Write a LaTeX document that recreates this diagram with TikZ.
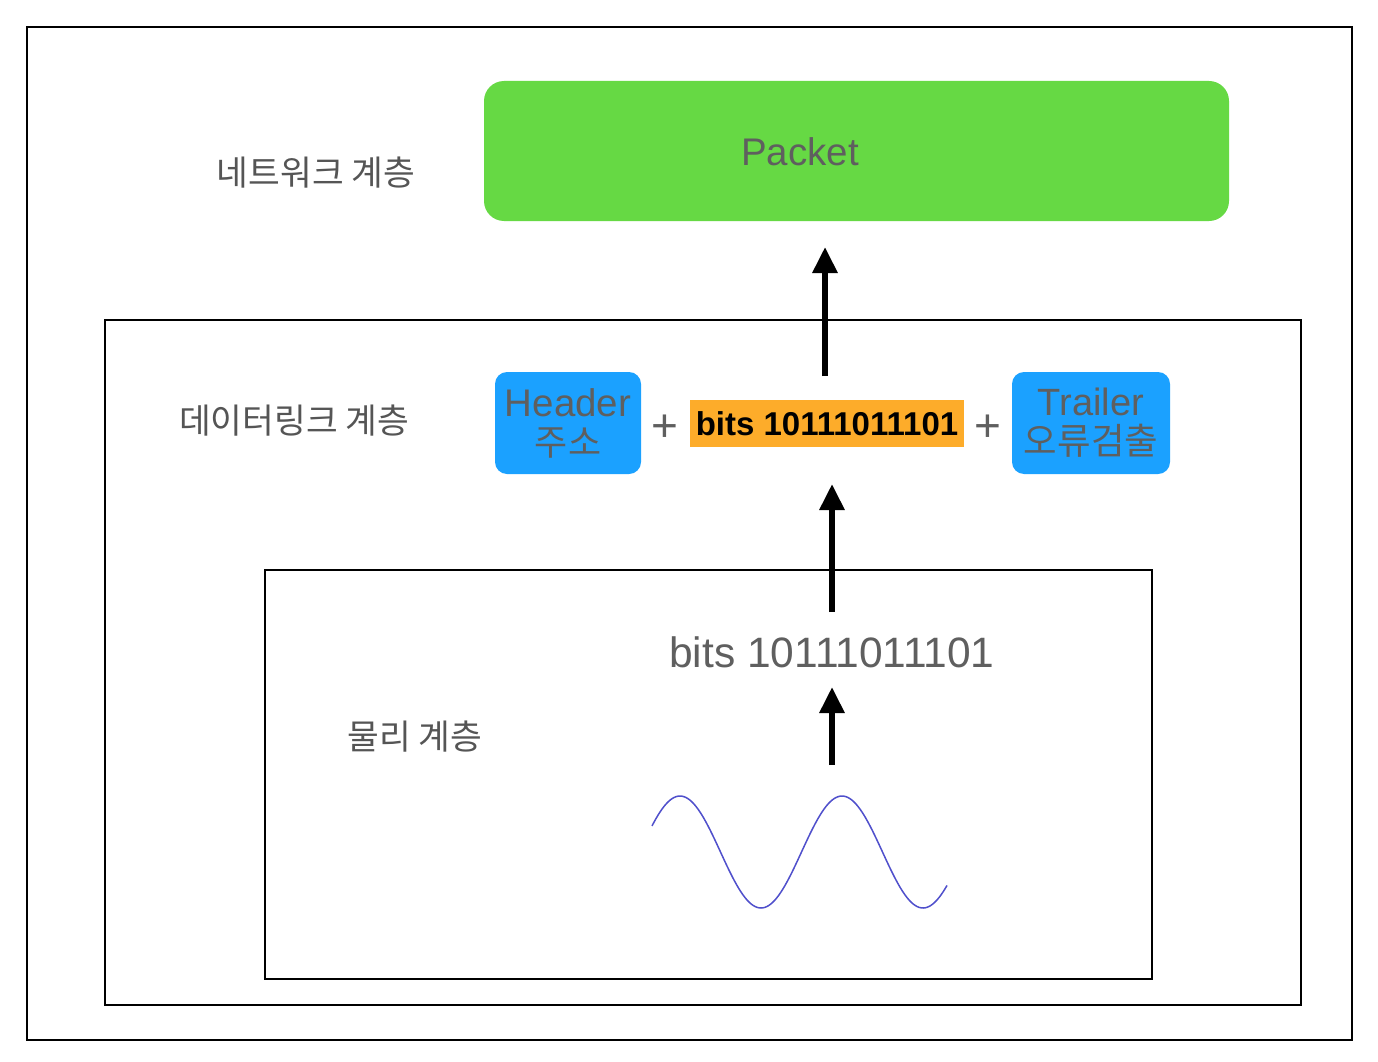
\documentclass[tikz,border=0pt]{standalone}
\usepackage{fontspec}
\setmainfont{Liberation Sans}
\newfontfamily\cjk{Noto Sans CJK KR}
\usetikzlibrary{arrows.meta}
\definecolor{txtgray}{HTML}{5F5F5F}
\definecolor{kgray}{HTML}{555555}
\definecolor{pgreen}{HTML}{66D944}
\definecolor{hblue}{HTML}{1BA1FF}
\definecolor{borange}{HTML}{FDAC2A}
\definecolor{wave}{HTML}{5050CC}
\tikzset{
  frame/.style={draw=black,line width=2pt},
  klabel/.style={text=kgray,font=\cjk\fontsize{34.5}{40}\selectfont,inner sep=0pt},
  bluebox/.style={fill=hblue,rounded corners=12pt,inner sep=0pt,text=txtgray,align=center},
  uparrow/.style={line width=6pt,-{Triangle[width=24pt,length=26pt]}},
  plus/.style={text=txtgray,font=\fontsize{46}{50}\selectfont,inner sep=0pt}
}
\begin{document}
\begin{tikzpicture}[x=1pt,y=-1pt]
\useasboundingbox (0,0) rectangle (1378,1062);
\fill[white] (0,0) rectangle (1378,1062);
% frames
\draw[frame] (27,27) rectangle (1352,1040);
\draw[frame] (105,320) rectangle (1301,1005);
\draw[frame] (265,570) rectangle (1152,979);
% network layer
\node[fill=pgreen,rounded corners=20pt,minimum width=745pt,minimum height=140pt,inner sep=0pt] (packet) at (856.5,151) {};
\node[text=txtgray,font=\fontsize{38.5}{44}\selectfont,inner sep=0pt] (packettxt) at (800,152) {Packet};
\node[klabel] (net) at (316,173) {네트워크 계층};
% data link layer
\node[klabel] (dl) at (294,421) {데이터링크 계층};
\node[bluebox,minimum width=146pt,minimum height=102pt,font=\fontsize{38.5}{42}\selectfont] (header) at (568,423) {Header\\[-3pt]{\cjk\fontsize{36}{40}\selectfont 주소}};
\node[plus] (p1) at (665,428) {+};
\node[fill=borange,minimum width=274pt,minimum height=47pt,inner sep=0pt,font=\bfseries\fontsize{33}{36}\selectfont,text=black] (bits) at (827,423.5) {bits 10111011101};
\node[plus] (p2) at (988,428) {+};
\node[bluebox,minimum width=158pt,minimum height=102pt,font=\fontsize{38}{42}\selectfont] (trailer) at (1091,423) {Trailer\\[-3pt]{\cjk\fontsize{36.5}{40}\selectfont 오류검출}};
% physical layer
\node[klabel] (phy) at (415,737) {물리 계층};
\node[text=txtgray,font=\fontsize{42.5}{46}\selectfont,inner sep=0pt] (pbits) at (832,652) {bits 10111011101};
% arrows
\coordinate (a1s) at (825,376);
\coordinate (a1e) at (825,247);
\coordinate (a2s) at (832,612);
\coordinate (a2e) at (832,484);
\coordinate (a3s) at (832,765);
\coordinate (a3e) at (832,687);
\draw[uparrow] (a1s) -- (a1e);
\draw[uparrow] (a2s) -- (a2e);
\draw[uparrow] (a3s) -- (a3e);
% wave
\draw[wave,line width=1.5pt,domain=-28:267,samples=150,smooth] plot ({680+\x},{852-56*cos(2.222222*\x)});
\end{tikzpicture}
\end{document}
